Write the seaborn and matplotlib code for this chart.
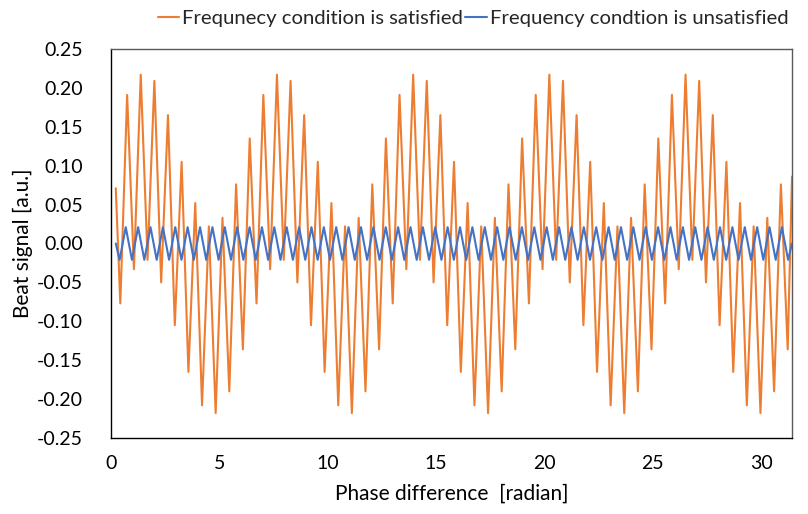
import numpy as np
import matplotlib
matplotlib.use("Agg")
import matplotlib.pyplot as plt
import seaborn as sns

# ---- data ----
# orange: extrema of one envelope cycle (trough, peak, trough, ...), as read
orange_cycle = [-0.077, 0.191, -0.033, 0.217, -0.021, 0.209, -0.050, 0.165,
                -0.105, 0.105, -0.165, 0.052, -0.208, 0.022, -0.218, 0.033,
                -0.190, 0.076, -0.136, 0.135]
orange_start = (0.22, 0.071)
orange_end = (31.42, 0.086)
orange_first_ext = 0.43
orange_ext_step = 0.3142

blue_peak = 0.021
blue_trough = -0.021
blue_start = (0.22, 0.0)
blue_end = (31.42, 0.0)
blue_first_ext = 0.395
blue_ext_step = 0.2856

legend_labels = ["Frequnecy condition is satisfied", "Frequency condtion is unsatisfied"]
x_ticks = [0, 5, 10, 15, 20, 25, 30]
y_ticks = [-0.25, -0.20, -0.15, -0.10, -0.05, 0.00, 0.05, 0.10, 0.15, 0.20, 0.25]

# ---- build series ----
o_ext = (orange_cycle * 5)[:-1]
orange_x = [orange_start[0]] + [orange_first_ext + orange_ext_step * k for k in range(len(o_ext))] + [orange_end[0]]
orange_y = [orange_start[1]] + o_ext + [orange_end[1]]

b_ext = [blue_trough, blue_peak] * 54 + [blue_trough]
blue_x = [blue_start[0]] + [blue_first_ext + blue_ext_step * k for k in range(len(b_ext))] + [blue_end[0]]
blue_y = [blue_start[1]] + b_ext + [blue_end[1]]

sns.set_theme(style="white")
plt.rcParams['font.family'] = ['Lato', 'DejaVu Sans']

fig = plt.figure(figsize=(8.08, 5.14), dpi=100)
ax = fig.add_axes([111/808, 1-438/514, (792-111)/808, (438-49)/514])

ORANGE = "#ED7D31"
BLUE = "#4472C4"
sns.lineplot(x=orange_x, y=orange_y, ax=ax, color=ORANGE, lw=1.5, label=legend_labels[0])
sns.lineplot(x=blue_x, y=blue_y, ax=ax, color=BLUE, lw=1.5, label=legend_labels[1])

ax.set_xlim(0, 31.42)
ax.set_ylim(-0.25, 0.25)
ax.set_xticks(x_ticks)
ax.set_xticklabels([str(t) for t in x_ticks])
ax.set_yticks(y_ticks)
ax.set_yticklabels([f"{t:.2f}" for t in y_ticks])
ax.tick_params(axis='x', direction='in', length=8, width=1, color='black', pad=12, labelsize=14, labelcolor='black')
ax.tick_params(axis='y', direction='out', length=5, width=1, color='black', pad=15, labelsize=14, labelcolor='black')
for s in ['left', 'bottom']:
    ax.spines[s].set_color('black')
    ax.spines[s].set_linewidth(1.0)
for s in ['top', 'right']:
    ax.spines[s].set_color('#595959')
    ax.spines[s].set_linewidth(1.0)

ax.set_xlabel("Phase difference  [radian]", fontsize=15, color='black', labelpad=9)
ax.set_ylabel("Beat signal [a.u.]", fontsize=15, color='black', labelpad=3)

ax.get_legend().remove()
h, l = ax.get_legend_handles_labels()
fig.legend(h, l, loc='center left', bbox_to_anchor=(158/808, 1-18/514), ncol=2, frameon=False,
           fontsize=14.6, handlelength=1.05, handletextpad=0.15, columnspacing=0.1, borderaxespad=0,
           borderpad=0)

fig.savefig("out.png", dpi=100)
